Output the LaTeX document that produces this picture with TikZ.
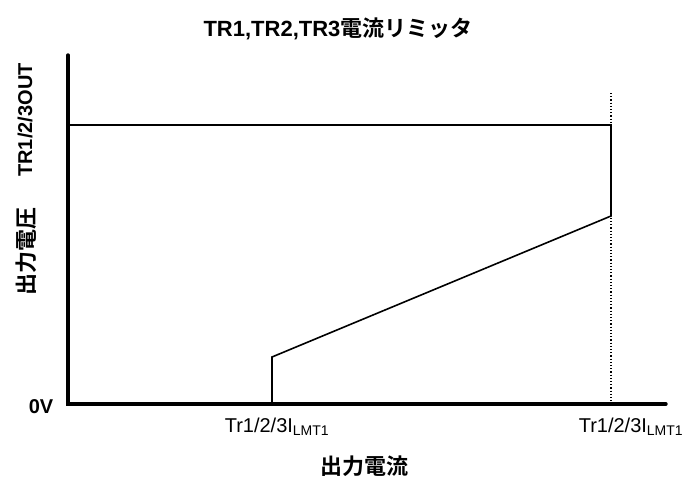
\documentclass[tikz,border=0pt]{standalone}
\usepackage{fontspec}
\setmainfont{Liberation Sans}
\newfontfamily\jpfont{Noto Sans CJK JP}[BoldFont=* Bold]
\usetikzlibrary{positioning}
\tikzset{
	axisline/.style={line width=3.4pt, line cap=round},
	limline/.style={line width=1.6pt},
	guideline/.style={line width=1.2pt, dotted},
	titletext/.style={font=\fontsize{22}{26}\selectfont\bfseries},
	axistext/.style={font=\fontsize{20}{24}\selectfont\bfseries},
	ticktext/.style={font=\fontsize{20}{24}\selectfont},
}
\newcommand{\jp}[1]{{\jpfont #1}}
\newcommand{\ilmt}{Tr1/2/3I\textsubscript{LMT1}}

\begin{document}
\begin{tikzpicture}[x=1pt, y=-1pt]
	%%%%% START %%%%%
	\useasboundingbox (0, 0) rectangle (683, 480);
	
	\coordinate (org) at (68, 404);
	\coordinate (ytop) at (68, 55);
	\coordinate (xend) at (666, 404);
	
	\coordinate (vmax) at (70, 125);
	\coordinate (kneeR) at (611, 125);
	\coordinate (slopeR) at (611, 216);
	\coordinate (slopeL) at (272, 357);
	\coordinate (footL) at (272, 404);
	\coordinate (guideT) at (611, 93);
	\coordinate (guideB) at (611, 404);
	
	\draw[guideline] (guideT) -- (guideB);
	\draw[limline] (vmax) -- (kneeR) -- (slopeR) -- (slopeL) -- (footL);
	\draw[axisline] (ytop) -- (org) -- (xend);
	
	\node[titletext] (title) at (338, 29) {TR1,TR2,TR3\jp{電流リミッタ}};
	
	\node[axistext, rotate=90] (ylabA) at (25, 120) {TR1/2/3OUT};
	\node[titletext, rotate=90] (ylabB) at (26, 251) {\jp{出力電圧}};
	\node[axistext] (zero) at (41, 407) {0V};
	
	\node[ticktext] (limA) at (277, 427) {\ilmt};
	\node[ticktext] (limB) at (631, 427) {\ilmt};
	
	\node[titletext] (xlab) at (364, 466) {\jp{出力電流}};
	%%%%% END %%%%%
\end{tikzpicture}
\end{document}
